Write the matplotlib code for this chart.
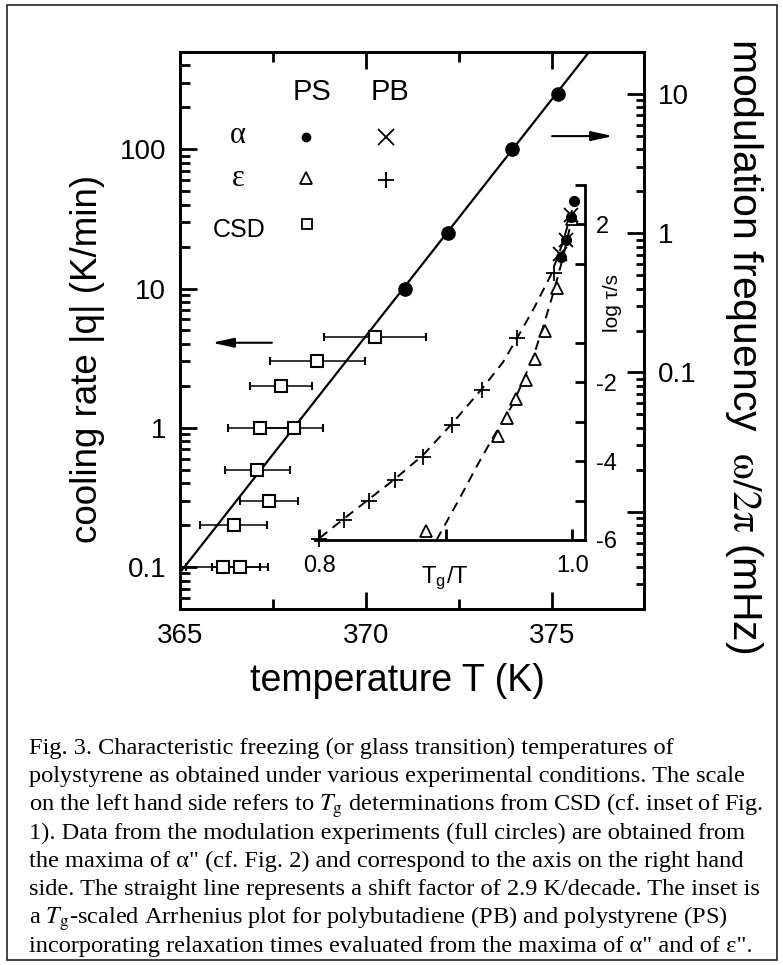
import numpy as np
import matplotlib
matplotlib.use("Agg")
import matplotlib.pyplot as plt
from matplotlib.patches import Rectangle
from matplotlib.ticker import FixedLocator, FixedFormatter, NullFormatter, LogLocator

plt.rcParams["font.family"] = ["Liberation Sans", "DejaVu Sans"]
plt.rcParams["mathtext.fontset"] = "stix"
plt.rcParams["axes.unicode_minus"] = False

# main panel data
T_mod = [371.05, 372.2, 373.92, 375.15]      # modulation experiment (right axis)
f_mod = [0.4, 1.0, 4.0, 10.0]                # mHz
T_csd = [370.24, 368.69, 367.72, 367.15, 368.06, 367.08, 367.38, 366.45, 366.16, 366.61]
q_csd = [4.5, 3.0, 2.0, 1.0, 1.0, 0.5, 0.3, 0.2, 0.1, 0.1]   # K/min
T_err = [1.37, 1.28, 0.83, 0.85, 0.77, 0.87, 0.78, 0.9, 1.0, 0.75]
line_T = [365.0, 376.0]
line_q = [0.0912, 503.0]

# inset data (Tg/T, log tau/s)
ps_a_x = [1.0013, 0.9985, 0.9946, 0.9906]
ps_a_y = [2.60, 2.20, 1.60, 1.18]
pb_a_x = [0.9985, 0.9946, 0.9904]
pb_a_y = [2.25, 1.60, 1.25]
ps_e_x = [0.8848, 0.9409, 0.948, 0.9551, 0.963, 0.9703, 0.9782, 0.9875, 1.0]
ps_e_y = [-5.78, -3.36, -2.90, -2.42, -1.95, -1.40, -0.71, 0.40, 2.15]
pb_e_x = [0.8, 0.8197, 0.8395, 0.8598, 0.8821, 0.905, 0.929, 0.9559, 0.9855]
pb_e_y = [-5.97, -5.5, -5.0, -4.49, -3.90, -3.09, -2.19, -0.89, 0.76]
pb_fit_x = [0.8005, 0.82, 0.84, 0.86, 0.882, 0.905, 0.929, 0.945, 0.956, 0.97, 0.983, 0.992, 1.0]
pb_fit_y = [-5.95, -5.45, -4.95, -4.45, -3.85, -3.05, -2.15, -1.5, -0.9, -0.1, 0.72, 1.5, 2.4]
ps_fit_x = [0.8927, 0.91, 0.925, 0.9375, 0.9533, 0.969, 0.9768, 0.9848, 0.9927, 0.9993, 1.002]
ps_fit_y = [-6.0, -5.0, -4.1, -3.39, -2.54, -1.36, -0.60, 0.25, 1.18, 2.11, 2.37]

W, H = 783, 965
fig = plt.figure(figsize=(W / 100, H / 100), dpi=100)


def fx(px):
    return px / W


def fy(py):
    return 1 - py / H


ax = fig.add_axes([fx(180), fy(609), fx(644) - fx(180), fy(52) - fy(609)])
ax.set_xlim(365, 377.47)
ax.set_yscale("log")
ax.set_ylim(0.05, 500)
ax2 = ax.twinx()
ax2.set_yscale("log")
ax2.set_ylim(0.002, 20)

for a in (ax, ax2):
    for s in a.spines.values():
        s.set_linewidth(2)

ax.xaxis.set_major_locator(FixedLocator([365, 370, 375]))
ax.xaxis.set_minor_locator(FixedLocator([367.5, 372.5]))
ax.yaxis.set_major_locator(FixedLocator([0.1, 1, 10, 100]))
ax.yaxis.set_major_formatter(FixedFormatter(["0.1", "1", "10", "100"]))
ax.yaxis.set_minor_locator(LogLocator(subs=np.arange(2, 10)))
ax.yaxis.set_minor_formatter(NullFormatter())
ax2.yaxis.set_major_locator(FixedLocator([0.01, 0.1, 1, 10]))
ax2.yaxis.set_major_formatter(FixedFormatter(["", "0.1", "1", "10"]))
ax2.yaxis.set_minor_locator(LogLocator(subs=np.arange(2, 10)))
ax2.yaxis.set_minor_formatter(NullFormatter())
ax.tick_params(which="both", direction="in", top=True, right=False, width=2, labelsize=20, pad=10)
ax.tick_params(which="major", length=12)
ax.tick_params(which="minor", length=7)
ax2.tick_params(which="both", direction="in", width=2, labelsize=20, pad=10)
ax2.tick_params(which="major", length=12)
ax2.tick_params(which="minor", length=6)

ax.plot(line_T, line_q, color="k", lw=1.6, zorder=3)
ax.errorbar(T_csd, q_csd, xerr=T_err, fmt="s", mfc="white", mec="k", mew=1.5, ms=8,
            ecolor="k", elinewidth=1.1, capsize=3, capthick=1.1, zorder=4)
ax2.plot(T_mod, f_mod, "o", color="k", ms=9.5, zorder=5)

# legend table
kw = dict(transform=ax.transAxes, ha="center", va="center")
ax.text(0.284, 0.928, "PS", fontsize=21, **kw)
ax.text(0.453, 0.928, "PB", fontsize=21, **kw)
ax.text(0.125, 0.850, "α", fontsize=22, family="Liberation Serif", **kw)
ax.text(0.125, 0.772, "ε", fontsize=22, family="Liberation Serif", **kw)
ax.text(0.127, 0.680, "CSD", fontsize=18, **kw)
ax.plot([0.2716], [0.848], "o", color="k", ms=6, transform=ax.transAxes)
ax.plot([0.444], [0.848], "x", color="k", ms=11, mew=1.3, transform=ax.transAxes)
ax.plot([0.2716], [0.774], "^", mfc="white", mec="k", mew=1.3, ms=8.5, transform=ax.transAxes)
ax.plot([0.444], [0.770], "+", color="k", ms=11, mew=1.3, transform=ax.transAxes)
ax.plot([0.2731], [0.692], "s", mfc="white", mec="k", mew=1.3, ms=6.5, transform=ax.transAxes)

arr = dict(arrowstyle="-|>,head_length=1.0,head_width=0.22", color="k", lw=1.5,
           mutation_scale=13, shrinkA=0, shrinkB=0)
ax.annotate("", xy=(0.069, 0.478), xytext=(0.198, 0.478), xycoords="axes fraction", arrowprops=arr)
ax.annotate("", xy=(0.933, 0.849), xytext=(0.802, 0.849), xycoords="axes fraction", arrowprops=arr)

# axis labels
fig.text(fx(397), fy(681), "temperature T (K)", fontsize=27, ha="center", va="center")
fig.text(fx(88), fy(359), "cooling rate |q| (K/min)", fontsize=26.5, rotation=90, ha="center", va="center")
fig.text(fx(744), fy(346), r"modulation frequency  $\mathrm{\omega/2\pi}$ (mHz)", fontsize=29.5,
         rotation=-90, ha="center", va="center")

# inset
axi = fig.add_axes([fx(315), fy(540), fx(585) - fx(315), fy(185) - fy(540)])
axi.patch.set_alpha(0)
axi.set_xlim(0.7968, 1.0099)
axi.set_ylim(-6, 3)
axi.spines["left"].set_visible(False)
axi.spines["top"].set_visible(False)
axi.spines["bottom"].set_linewidth(2)
axi.spines["right"].set_linewidth(2)
axi.yaxis.tick_right()
axi.xaxis.set_major_locator(FixedLocator([0.8, 1.0]))
axi.xaxis.set_major_formatter(FixedFormatter(["0.8", "1.0"]))
axi.xaxis.set_minor_locator(FixedLocator([0.9]))
axi.yaxis.set_major_locator(FixedLocator([-6, -4, -2, 2]))
axi.yaxis.set_major_formatter(FixedFormatter(["-6", "-4", "-2", "2"]))
axi.yaxis.set_minor_locator(FixedLocator([-5, -3, -1, 1, 3]))
axi.tick_params(which="both", direction="in", width=2, labelsize=17)
axi.tick_params(axis="x", which="both", length=8, pad=11)
axi.tick_params(axis="y", which="both", length=7, pad=8, left=False, right=True)

axi.plot(pb_fit_x, pb_fit_y, "k--", lw=1.4, dashes=(5, 3.5))
axi.plot(ps_fit_x, ps_fit_y, "k--", lw=1.4, dashes=(5, 3.5))
axi.plot(pb_e_x, pb_e_y, "+", color="k", ms=11, mew=1.3, clip_on=False)
axi.plot(ps_e_x, ps_e_y, "^", mfc="white", mec="k", mew=1.3, ms=9, clip_on=False)
axi.plot(ps_a_x, ps_a_y, "o", color="k", ms=7, clip_on=False)
axi.plot(pb_a_x, pb_a_y, "x", color="k", ms=10, mew=1.3, clip_on=False)
axi.text(0.481, -0.107, r"T$_\mathregular{g}$/T", transform=axi.transAxes, fontsize=17,
         ha="center", va="center")
axi.text(1.1, 0.0, "log τ/s", transform=axi.get_yaxis_transform(), fontsize=15,
         rotation=90, ha="center", va="center")

# caption
caption = [
    "Fig. 3. Characteristic freezing (or glass transition) temperatures of",
    "polystyrene as obtained under various experimental conditions. The scale",
    r"on the left hand side refers to $T_\mathrm{g}$ determinations from CSD (cf. inset of Fig.",
    "1). Data from the modulation experiments (full circles) are obtained from",
    "the maxima of α\" (cf. Fig. 2) and correspond to the axis on the right hand",
    "side. The straight line represents a shift factor of 2.9 K/decade. The inset is",
    r"a $T_\mathrm{g}$-scaled Arrhenius plot for polybutadiene (PB) and polystyrene (PS)",
    "incorporating relaxation times evaluated from the maxima of α\" and of ε\".",
]
for i, line in enumerate(caption):
    fig.text(fx(29), fy(754 + 28.3 * i), line, fontsize=17.6, family="Liberation Serif",
             ha="left", va="baseline")

fig.add_artist(Rectangle((fx(7), fy(960)), fx(777) - fx(7), fy(5) - fy(960),
                         transform=fig.transFigure, fill=False, lw=1.2, ec="#222"))

fig.savefig("out.png", dpi=100)
